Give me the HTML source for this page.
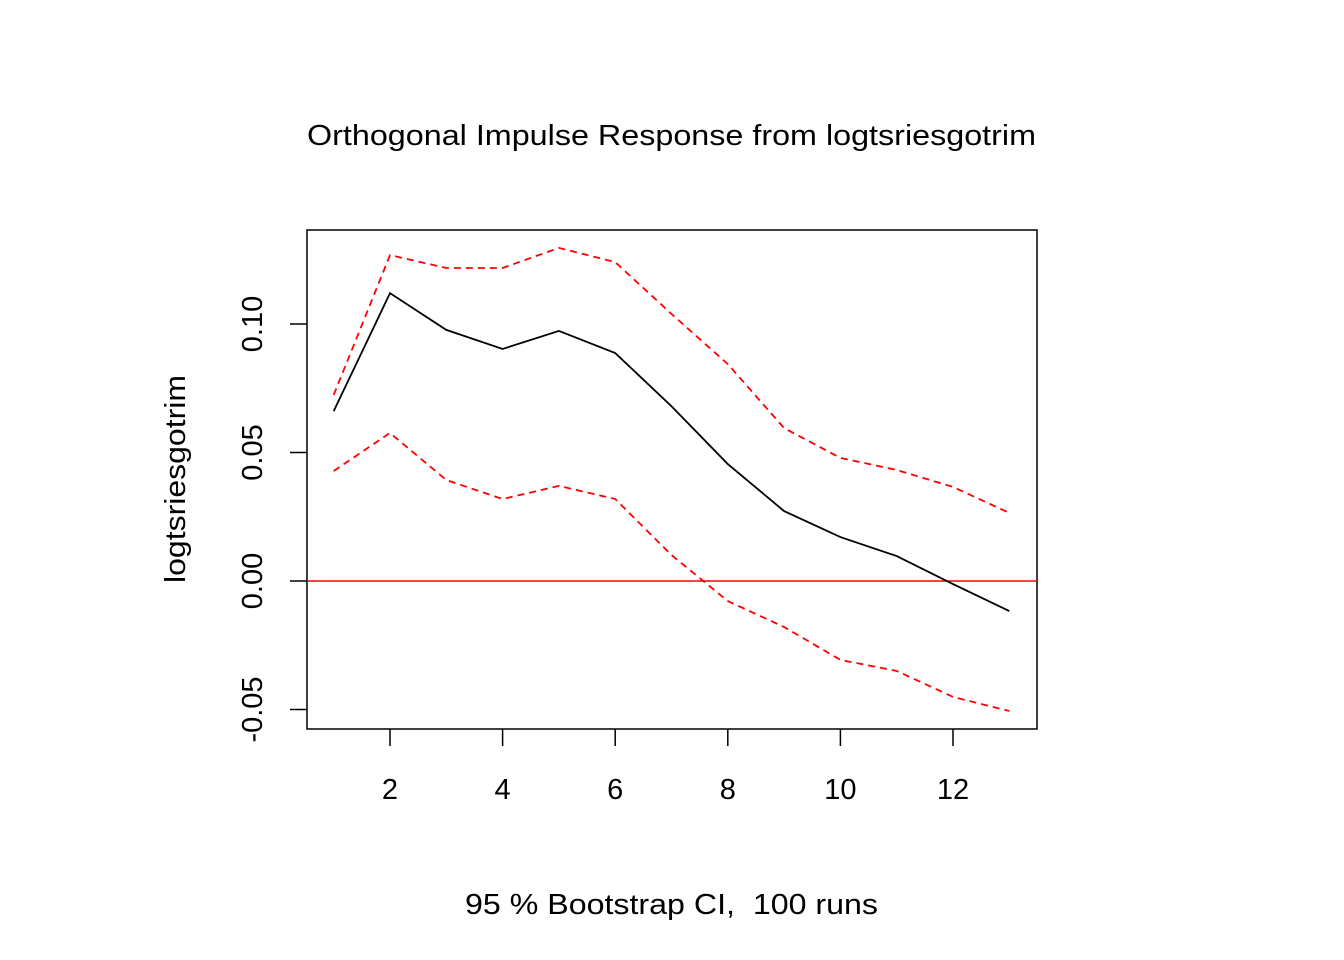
<!DOCTYPE html>
<html><head><meta charset="utf-8">
<style>
html,body{margin:0;padding:0;background:#fff;}
svg{display:block;font-family:"Liberation Sans",Arial,sans-serif;}
</style></head>
<body>
<svg id="chart" width="1344" height="960" viewBox="0 0 1344 960">
<text x="307" y="145" textLength="729" lengthAdjust="spacingAndGlyphs" font-size="29">Orthogonal Impulse Response from logtsriesgotrim</text>
<text x="465" y="914" textLength="413" lengthAdjust="spacingAndGlyphs" font-size="29">95 % Bootstrap CI,&#160; 100 runs</text>
<text transform="translate(185,583) rotate(-90)" textLength="208" lengthAdjust="spacingAndGlyphs" font-size="29">logtsriesgotrim</text>
<rect x="307" y="230" width="730" height="499" fill="none" stroke="#000" stroke-width="1.5"/>
<g id="axes"></g>
<g id="series"></g>
</svg>
<script>
const steps = [1,2,3,4,5,6,7,8,9,10,11,12,13];
const responseValues = [0.0661,0.112,0.0977,0.0903,0.0973,0.0887,0.068,0.0455,0.0272,0.0171,0.0097,-0.0012,-0.0117];
const upperValues = [0.0724,0.1268,0.1218,0.1218,0.1296,0.1241,0.1039,0.0844,0.0595,0.0479,0.0432,0.0366,0.0265];
const lowerValues = [0.0428,0.0576,0.0393,0.0319,0.037,0.0319,0.0101,-0.0078,-0.0179,-0.0307,-0.035,-0.0451,-0.0506];
const xTicks = [2,4,6,8,10,12];
const yTicks = [-0.05,0,0.05,0.10];
const yTickLabels = ["-0.05","0.00","0.05","0.10"];

const NS = "http://www.w3.org/2000/svg";
function xs(v){ return 390 + (v-2)*56.3; }
function ys(v){ return 581 - v*2570; }
const axes = document.getElementById('axes');
const series = document.getElementById('series');
function mk(tag, attrs, parent){
  const e = document.createElementNS(NS, tag);
  for (const k in attrs) e.setAttribute(k, attrs[k]);
  parent.appendChild(e);
  return e;
}
xTicks.forEach(t => {
  const l = mk('line', {x1:xs(t), x2:xs(t), y1:729, y2:746, stroke:'#000', 'stroke-width':1.5}, axes);
  
  
  const tx = mk('text', {x:xs(t), y:799, 'text-anchor':'middle', 'font-size':29}, axes);
  tx.textContent = t;
  
  
});
yTicks.forEach((t,i) => {
  const l = mk('line', {x1:290, x2:307, y1:ys(t), y2:ys(t), stroke:'#000', 'stroke-width':1.5}, axes);
  
  
  const tx = mk('text', {transform:'translate(262,' + ys(t) + ') rotate(-90)', 'text-anchor':'middle', 'font-size':29}, axes);
  tx.textContent = yTickLabels[i];
  
  
});
const zero = mk('line', {x1:307, x2:1037, y1:ys(0), y2:ys(0), stroke:'#ff0000', 'stroke-width':1.5}, series);


function pts(vals){ return vals.map((v,i)=> xs(steps[i]) + ',' + ys(v)).join(' '); }
const up = mk('polyline', {points:pts(upperValues), fill:'none', stroke:'#ff0000', 'stroke-width':1.8, 'stroke-dasharray':'7,5'}, series);


const lo = mk('polyline', {points:pts(lowerValues), fill:'none', stroke:'#ff0000', 'stroke-width':1.8, 'stroke-dasharray':'7,5'}, series);


const resp = mk('polyline', {points:pts(responseValues), fill:'none', stroke:'#000', 'stroke-width':1.8}, series);


</script>
</body></html>
